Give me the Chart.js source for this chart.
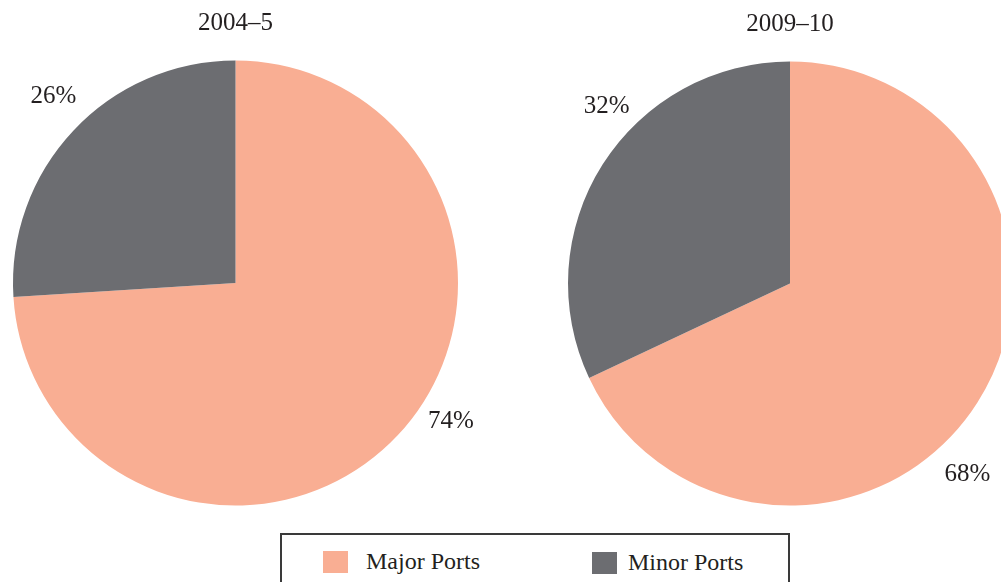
<!DOCTYPE html>
<html>
<head>
<meta charset="utf-8">
<script src="https://cdn.jsdelivr.net/npm/chart.js@4/dist/chart.umd.min.js"></script>
<style>
  html, body { margin: 0; padding: 0; background: #fff; }
  #wrap { position: relative; width: 1001px; height: 582px; overflow: hidden; background: #fff; }
  canvas { position: absolute; }
  #legend {
    position: absolute; left: 280px; top: 533px; width: 510px; height: 70px;
    border: 2px solid #3a3a3a; box-sizing: border-box;
    font-family: "Liberation Serif", "DejaVu Serif", serif; font-size: 24px; color: #231f20;
  }
  .item { position: absolute; top: 13px; display: flex; align-items: center; }
  .sw { width: 25px; height: 22px; }
</style>
</head>
<body>
<div id="wrap">
  <canvas id="pieA"></canvas>
  <canvas id="pieB"></canvas>
  <div id="legend"></div>
</div>
<script>
// Share of cargo traffic handled by major and minor ports
const categories = ['Major Ports', 'Minor Ports'];
const periods = ['2004–5', '2009–10'];
const share2004 = [74, 26];
const share2009 = [68, 32];
const sliceColors = ['#F9AE93', '#6C6D71'];

// where each percentage label sits: angle clockwise from 12 o'clock (deg) and distance as a multiple of the radius
const labelPlacement = [
  [{ angle: 122.5, dist: 1.148 }, { angle: 315.9, dist: 1.176 }],
  [{ angle: 137.0, dist: 1.172 }, { angle: 314.1, dist: 1.150 }]
];

const FONT = '"Liberation Serif", "DejaVu Serif", serif';
const INK = '#231f20';

// draws the period title above the pie and the percentage labels round it
const annotate = {
  id: 'annotate',
  afterDraw(chart, args, opts) {
    const ctx = chart.ctx;
    const meta = chart.getDatasetMeta(0);
    const arc0 = meta.data[0];
    const cx = arc0.x, cy = arc0.y, r = arc0.outerRadius;
    ctx.save();
    ctx.fillStyle = INK;
    ctx.font = '25px ' + FONT;
    ctx.textAlign = 'center';
    ctx.textBaseline = 'middle';
    ctx.fillText(opts.title, cx, cy - r - 37);
    const values = chart.data.datasets[0].data;
    values.forEach((v, i) => {
      const p = opts.places[i];
      const a = p.angle * Math.PI / 180;
      const d = p.dist * r;
      ctx.fillText(v + '%', cx + Math.sin(a) * d, cy - Math.cos(a) * d + 1);
    });
    ctx.restore();
  }
};

function makePie(id, left, top, w, h, pad, values, title, places) {
  const el = document.getElementById(id);
  el.style.left = left + 'px';
  el.style.top = top + 'px';
  el.width = w; el.height = h;
  el.style.width = w + 'px'; el.style.height = h + 'px';
  return new Chart(el, {
    type: 'pie',
    data: {
      labels: categories,
      datasets: [{ data: values, backgroundColor: sliceColors, borderWidth: 0 }]
    },
    options: {
      responsive: false,
      animation: false,
      layout: { padding: pad },
      plugins: {
        legend: { display: false },
        tooltip: { enabled: false },
        annotate: { title: title, places: places }
      }
    },
    plugins: [annotate]
  });
}

makePie('pieA', 0, 0, 520, 520, { left: 13, top: 60.5, right: 62, bottom: 14.5 }, share2004, periods[0], labelPlacement[0]);
makePie('pieB', 500, 0, 560, 520, { left: 68, top: 61.5, right: 48, bottom: 14.5 }, share2009, periods[1], labelPlacement[1]);

// legend built from the categories and slice colours
const legend = document.getElementById('legend');
const itemX = [41, 310];
const itemGap = [18, 11];
categories.forEach((c, i) => {
  const item = document.createElement('div');
  item.className = 'item';
  item.style.left = itemX[i] + 'px';
  if (i === 1) item.style.top = '14px';
  const sw = document.createElement('div');
  sw.className = 'sw';
  sw.style.background = sliceColors[i];
  sw.style.marginRight = itemGap[i] + 'px';
  const tx = document.createElement('span');
  tx.textContent = c;
  item.appendChild(sw);
  item.appendChild(tx);
  legend.appendChild(item);
});
</script>
</body>
</html>
